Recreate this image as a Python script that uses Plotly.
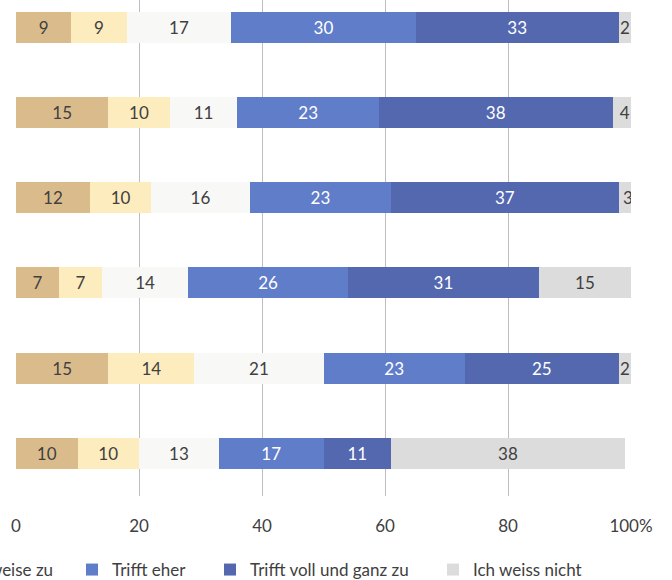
import plotly.graph_objects as go

categories = ["Aussage 1", "Aussage 2", "Aussage 3", "Aussage 4", "Aussage 5", "Aussage 6"]
series_names = ["Trifft überhaupt nicht zu", "Trifft eher nicht zu", "Trifft teilweise zu",
                "Trifft eher", "Trifft voll und ganz zu", "Ich weiss nicht"]
v_ueberhaupt_nicht = [9, 15, 12, 7, 15, 10]
v_eher_nicht = [9, 10, 10, 7, 14, 10]
v_teilweise = [17, 11, 16, 14, 21, 13]
v_eher = [30, 23, 23, 26, 23, 17]
v_voll = [33, 38, 37, 31, 25, 11]
v_weiss_nicht = [2, 4, 3, 15, 2, 38]
tick_vals = [0, 20, 40, 60, 80, 100]
tick_text = ["0", "20", "40", "60", "80", "100%"]

values = [v_ueberhaupt_nicht, v_eher_nicht, v_teilweise, v_eher, v_voll, v_weiss_nicht]
colors = ["#DABC8C", "#FCECBE", "#F8F8F6", "#5F7DC8", "#5468B0", "#DCDCDC"]
text_colors = ["#404040", "#404040", "#404040", "#FFFFFF", "#FFFFFF", "#404040"]

FONT = "Lato"
W, H = 672, 580
ML, MR, MT, MB = 16, 41, 0, 84
PW = W - ML - MR
PH = H - MT - MB

# legend text start positions (pixels)
legend_text_px = [-440, -240, -74, 112, 250, 473]
legend_ids = ["legend", "legend2", "legend3", "legend4", "legend5", "legend6"]

fig = go.Figure()
for i, (name, vals) in enumerate(zip(series_names, values)):
    fig.add_trace(go.Bar(
        y=categories, x=vals, name=name, orientation="h",
        marker=dict(color=colors[i], line=dict(width=0)),
        text=[str(v) for v in vals], textposition="inside",
        insidetextanchor="middle", textangle=0,
        textfont=dict(family=FONT, size=17, color=text_colors[i]),
        legend=legend_ids[i], hoverinfo="x+name",
    ))

layout_legends = {}
for i, lid in enumerate(legend_ids):
    x_px = legend_text_px[i] - 40
    layout_legends[lid] = dict(
        x=(x_px - ML) / PW, xanchor="left",
        y=(PH - (570 - MT)) / PH, yanchor="middle",
        orientation="h", bgcolor="rgba(0,0,0,0)",
        font=dict(family=FONT, size=17, color="#404040"),
        borderwidth=0, tracegroupgap=0,
    )

fig.update_layout(
    width=W, height=H,
    margin=dict(l=ML, r=MR, t=MT, b=MB, autoexpand=False),
    barmode="stack", bargap=0.636,
    plot_bgcolor="white", paper_bgcolor="white",
    font=dict(family=FONT, color="#404040"),
    uniformtext=dict(mode="show", minsize=17),
    xaxis=dict(range=[0, 100], tickvals=tick_vals, ticktext=tick_text,
               showgrid=True, gridcolor="#BDBDBD", gridwidth=1, zeroline=False,
               showline=False, ticks="", ticklabelstandoff=18,
               tickfont=dict(family=FONT, size=17, color="#404040"), fixedrange=True),
    yaxis=dict(type="category", range=[5.5, -0.318], showticklabels=False,
               showgrid=False, zeroline=False, showline=False, ticks="", fixedrange=True),
    **layout_legends,
)

fig.write_html("out.html")
